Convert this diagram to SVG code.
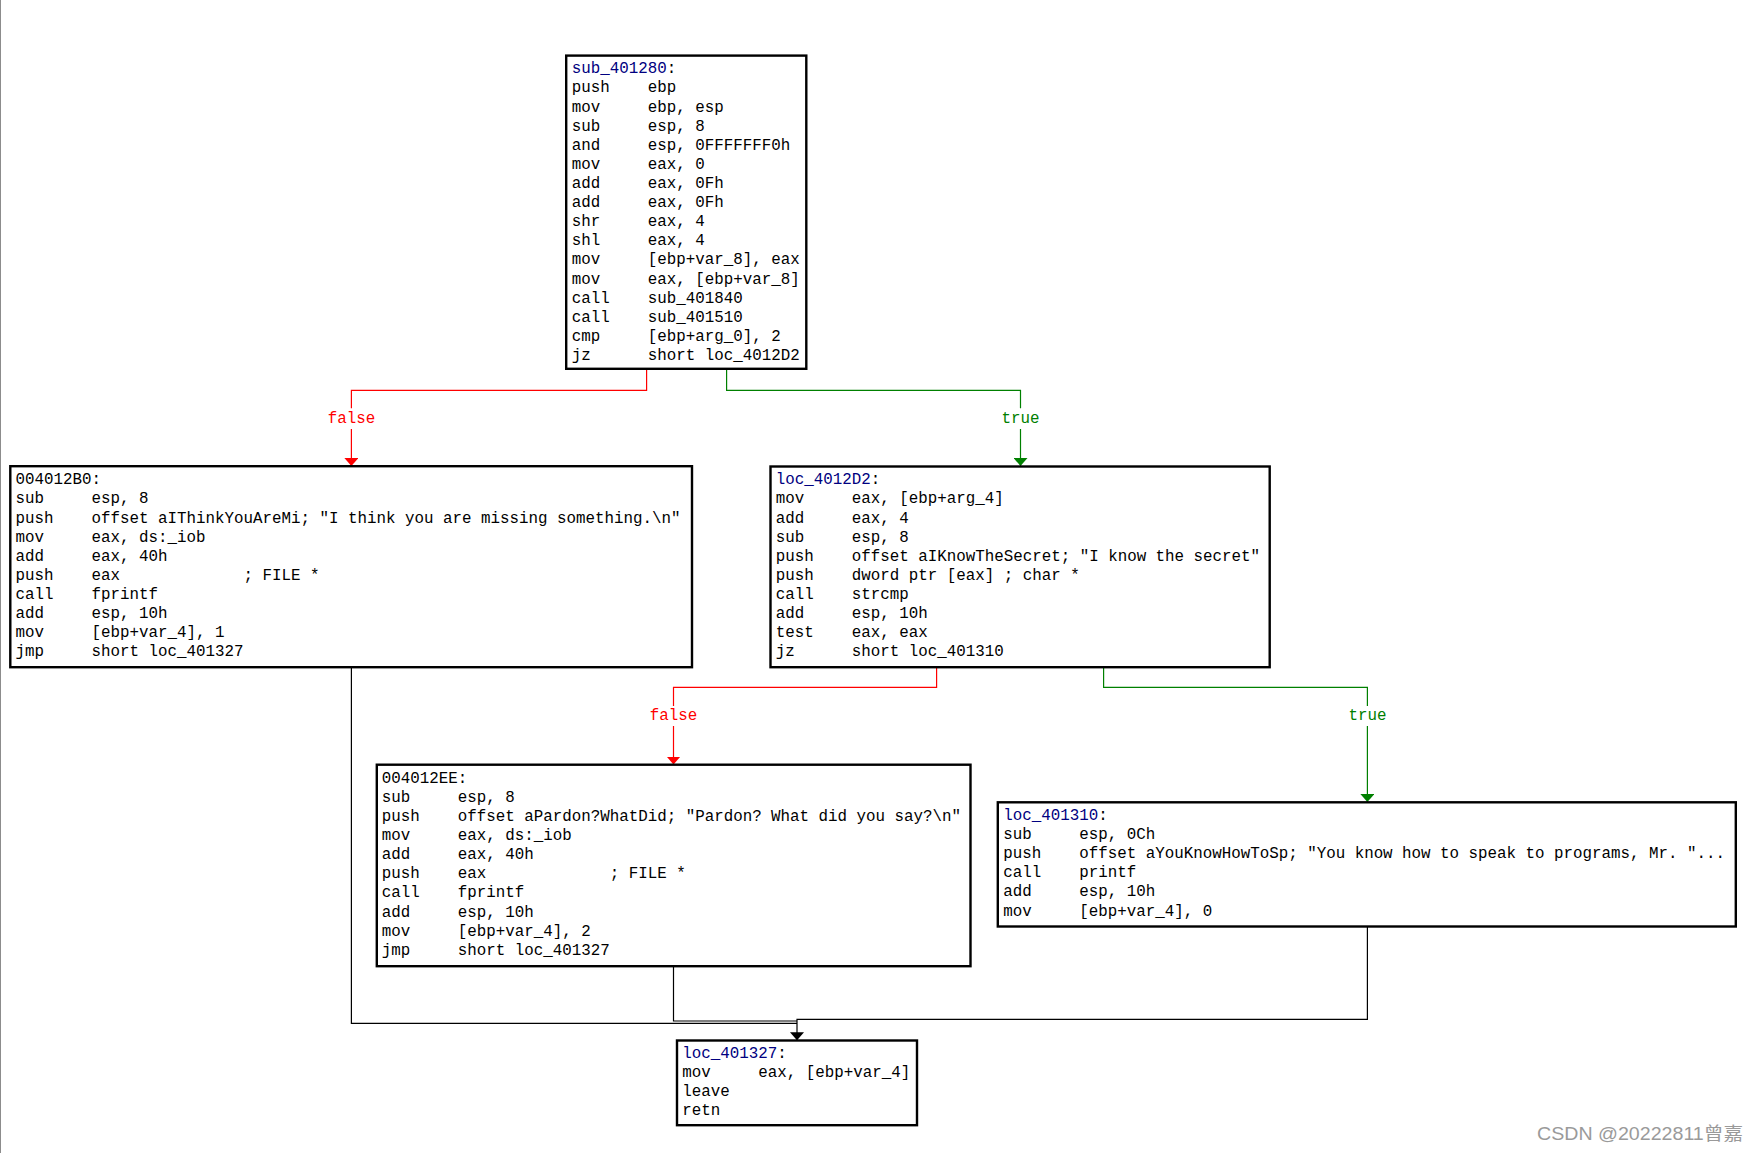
<svg xmlns="http://www.w3.org/2000/svg" width="1759" height="1153" viewBox="0 0 1759 1153" xml:space="preserve">
<style>
.bg{fill:#fff}
.box{fill:#fff;stroke:#000;stroke-width:2.4}
.code{font-family:"Liberation Mono","DejaVu Sans Mono",monospace;font-size:15.83px;fill:#000;white-space:pre}
.lbl{fill:#000080}
.edge{fill:none;stroke-width:1.2}
.f{stroke:#ff0000}
.t{stroke:#008000}
.k{stroke:#000}
.el{font-family:"Liberation Mono","DejaVu Sans Mono",monospace;font-size:15.83px;text-anchor:middle}
.wm{font-family:"Liberation Sans","Noto Sans CJK SC",sans-serif;font-size:18.5px;fill:#9a9a9a}
</style>
<defs>
<marker id="ar" viewBox="0 0 8 14" markerWidth="8" markerHeight="14" refX="8" refY="7" orient="auto" markerUnits="userSpaceOnUse"><path d="M0,0 L8,7 L0,14 Z" fill="#ff0000"/></marker>
<marker id="ag" viewBox="0 0 8 14" markerWidth="8" markerHeight="14" refX="8" refY="7" orient="auto" markerUnits="userSpaceOnUse"><path d="M0,0 L8,7 L0,14 Z" fill="#008000"/></marker>
<marker id="ak" viewBox="0 0 8 14" markerWidth="8" markerHeight="14" refX="8" refY="7" orient="auto" markerUnits="userSpaceOnUse"><path d="M0,0 L8,7 L0,14 Z" fill="#000"/></marker>
</defs>
<rect class="bg" x="0" y="0" width="1759" height="1153"/>
<line x1="0.5" y1="0" x2="0.5" y2="1153" stroke="#8c8c8c" stroke-width="1"/>

<g id="connectors">
<path class="edge f" d="M646.6,370 V390.3 H351.4 V408.3 M351.4,429 V466" marker-end="url(#ar)"/>
<text class="el" x="351.4" y="423.3" fill="#ff0000">false</text>
<path class="edge t" d="M726.6,370 V390.3 H1020.5 V408.3 M1020.5,429 V466" marker-end="url(#ag)"/>
<text class="el" x="1020.5" y="423.3" fill="#008000">true</text>
<path class="edge f" d="M936.6,668 V687.3 H673.5 V706 M673.5,726 V764.5" marker-end="url(#ar)"/>
<text class="el" x="673.5" y="720" fill="#ff0000">false</text>
<path class="edge t" d="M1103.6,668 V687.3 H1367.4 V706 M1367.4,726 V802" marker-end="url(#ag)"/>
<text class="el" x="1367.4" y="720" fill="#008000">true</text>
<path class="edge k" d="M351.4,668 V1023.3 H797"/>
<path class="edge k" d="M673.5,966 V1021 H797"/>
<path class="edge k" d="M1367.4,926.5 V1019.3 H797 V1040.3" marker-end="url(#ak)"/>
</g>

<g id="node_sub_401280">
<rect class="box" x="566.2" y="55.6" width="240.1" height="313.2"/>
<text class="code" x="571.7" y="73.3"><tspan class="lbl">sub_401280</tspan>:</text>
<text class="code" x="571.7" y="92.4">push    ebp</text>
<text class="code" x="571.7" y="111.5">mov     ebp, esp</text>
<text class="code" x="571.7" y="130.6">sub     esp, 8</text>
<text class="code" x="571.7" y="149.7">and     esp, 0FFFFFFF0h</text>
<text class="code" x="571.7" y="168.9">mov     eax, 0</text>
<text class="code" x="571.7" y="188.0">add     eax, 0Fh</text>
<text class="code" x="571.7" y="207.1">add     eax, 0Fh</text>
<text class="code" x="571.7" y="226.2">shr     eax, 4</text>
<text class="code" x="571.7" y="245.3">shl     eax, 4</text>
<text class="code" x="571.7" y="264.4">mov     [ebp+var_8], eax</text>
<text class="code" x="571.7" y="283.5">mov     eax, [ebp+var_8]</text>
<text class="code" x="571.7" y="302.6">call    sub_401840</text>
<text class="code" x="571.7" y="321.7">call    sub_401510</text>
<text class="code" x="571.7" y="340.8">cmp     [ebp+arg_0], 2</text>
<text class="code" x="571.7" y="359.9">jz      short loc_4012D2</text>
</g>

<g id="node_004012B0">
<rect class="box" x="10.3" y="466.2" width="681.7" height="201"/>
<text class="code" x="15.6" y="484.3">004012B0:</text>
<text class="code" x="15.6" y="503.4">sub     esp, 8</text>
<text class="code" x="15.6" y="522.5">push    offset aIThinkYouAreMi; "I think you are missing something.\n"</text>
<text class="code" x="15.6" y="541.6">mov     eax, ds:_iob</text>
<text class="code" x="15.6" y="560.7">add     eax, 40h</text>
<text class="code" x="15.6" y="579.8">push    eax             ; FILE *</text>
<text class="code" x="15.6" y="599.0">call    fprintf</text>
<text class="code" x="15.6" y="618.1">add     esp, 10h</text>
<text class="code" x="15.6" y="637.2">mov     [ebp+var_4], 1</text>
<text class="code" x="15.6" y="656.3">jmp     short loc_401327</text>
</g>

<g id="node_loc_4012D2">
<rect class="box" x="770.5" y="466.5" width="499.2" height="200.7"/>
<text class="code" x="775.7" y="484.3"><tspan class="lbl">loc_4012D2</tspan>:</text>
<text class="code" x="775.7" y="503.4">mov     eax, [ebp+arg_4]</text>
<text class="code" x="775.7" y="522.5">add     eax, 4</text>
<text class="code" x="775.7" y="541.6">sub     esp, 8</text>
<text class="code" x="775.7" y="560.7">push    offset aIKnowTheSecret; "I know the secret"</text>
<text class="code" x="775.7" y="579.8">push    dword ptr [eax] ; char *</text>
<text class="code" x="775.7" y="599.0">call    strcmp</text>
<text class="code" x="775.7" y="618.1">add     esp, 10h</text>
<text class="code" x="775.7" y="637.2">test    eax, eax</text>
<text class="code" x="775.7" y="656.3">jz      short loc_401310</text>
</g>

<g id="node_004012EE">
<rect class="box" x="376.8" y="764.7" width="593.7" height="201.5"/>
<text class="code" x="381.7" y="782.7">004012EE:</text>
<text class="code" x="381.7" y="801.8">sub     esp, 8</text>
<text class="code" x="381.7" y="820.9">push    offset aPardon?WhatDid; "Pardon? What did you say?\n"</text>
<text class="code" x="381.7" y="840.0">mov     eax, ds:_iob</text>
<text class="code" x="381.7" y="859.1">add     eax, 40h</text>
<text class="code" x="381.7" y="878.2">push    eax             ; FILE *</text>
<text class="code" x="381.7" y="897.4">call    fprintf</text>
<text class="code" x="381.7" y="916.5">add     esp, 10h</text>
<text class="code" x="381.7" y="935.6">mov     [ebp+var_4], 2</text>
<text class="code" x="381.7" y="954.7">jmp     short loc_401327</text>
</g>

<g id="node_loc_401310">
<rect class="box" x="997.8" y="802.3" width="738" height="124.2"/>
<text class="code" x="1003.2" y="820"><tspan class="lbl">loc_401310</tspan>:</text>
<text class="code" x="1003.2" y="839.1">sub     esp, 0Ch</text>
<text class="code" x="1003.2" y="858.2">push    offset aYouKnowHowToSp; "You know how to speak to programs, Mr. "...</text>
<text class="code" x="1003.2" y="877.3">call    printf</text>
<text class="code" x="1003.2" y="896.4">add     esp, 10h</text>
<text class="code" x="1003.2" y="915.5">mov     [ebp+var_4], 0</text>
</g>

<g id="node_loc_401327">
<rect class="box" x="677" y="1040.5" width="240" height="84.7"/>
<text class="code" x="682.3" y="1057.7"><tspan class="lbl">loc_401327</tspan>:</text>
<text class="code" x="682.3" y="1076.8">mov     eax, [ebp+var_4]</text>
<text class="code" x="682.3" y="1095.9">leave</text>
<text class="code" x="682.3" y="1115.0">retn</text>
</g>

<text class="wm" x="1537" y="1139.5" textLength="206" lengthAdjust="spacingAndGlyphs">CSDN @20222811曾嘉</text>
</svg>
